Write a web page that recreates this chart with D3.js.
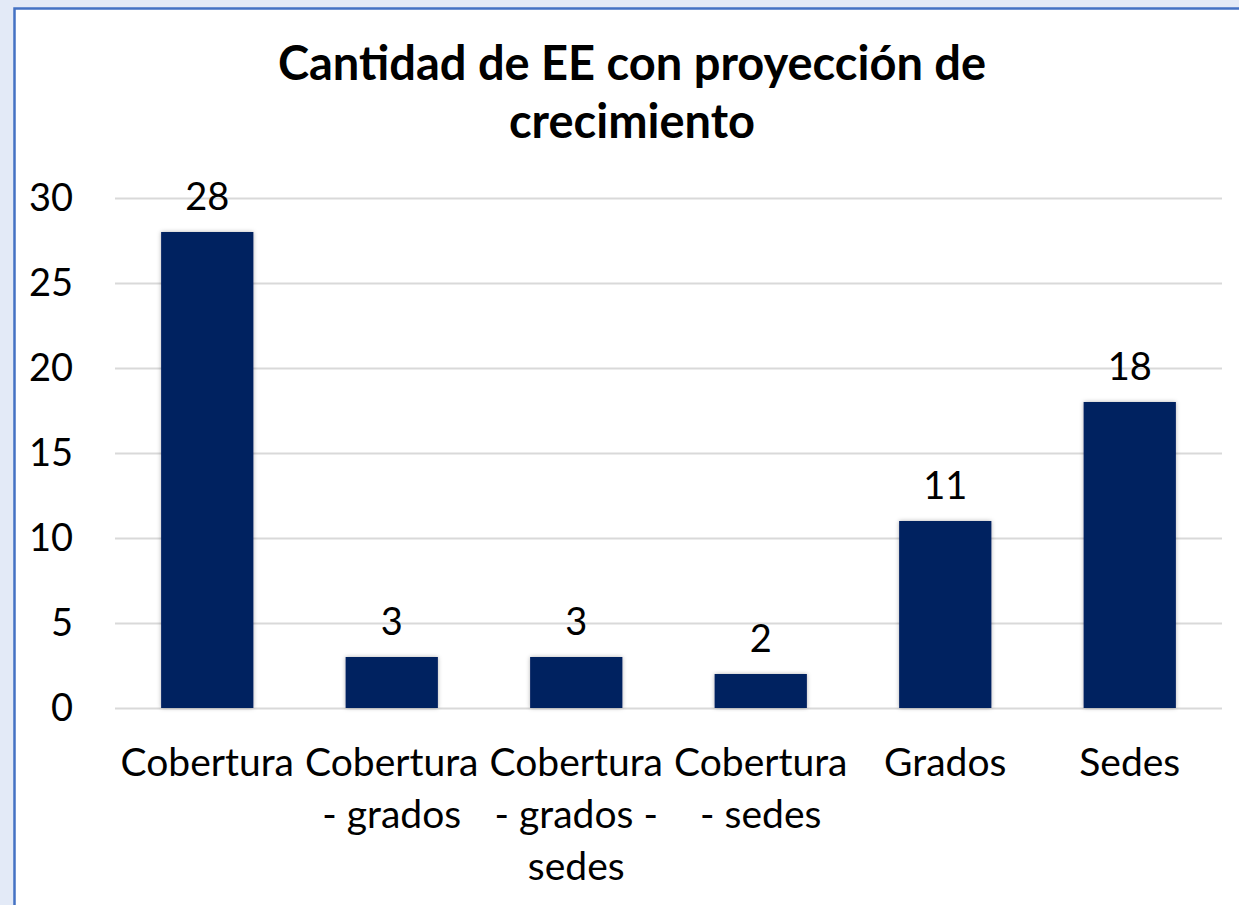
<!doctype html>
<html>

<head>
  <meta charset="UTF-8" />
  <title>Cantidad de EE con proyección de crecimiento</title>
  <style>
    html,
    body {
      margin: 0;
      background: #e3eaf7;
      width: 100%;
      height: 100%;
      overflow: hidden;
    }

    svg {
      font-family: Lato, "Open Sans", sans-serif;
    }

    .grid line {
      stroke: #d9d9d9;
      stroke-width: 2px;
    }

    .grid .domain {
      display: none;
    }
  </style>
</head>

<body>
  <script src="https://cdn.jsdelivr.net/npm/d3@7"></script>
  <script>
    // data
    const categories = ['Cobertura', 'Cobertura - grados', 'Cobertura - grados - sedes', 'Cobertura - sedes', 'Grados', 'Sedes'];
    const values = [28, 3, 3, 2, 11, 18];
    const yTicks = [0, 5, 10, 15, 20, 25, 30];
    const titleLines = ['Cantidad de EE con proyección de', 'crecimiento'];

    const width = 1239,
      height = 905;
    const margin = { top: 198, right: 17, bottom: 197, left: 115 };

    const svg = d3.select('body').append('svg')
      .attr('width', width)
      .attr('height', height);

    const defs = svg.append('defs');
    const shadow = defs.append('filter')
      .attr('id', 'shadow')
      .attr('x', '-10%').attr('y', '-10%')
      .attr('width', '120%').attr('height', '120%');
    shadow.append('feDropShadow')
      .attr('dx', 0).attr('dy', 0)
      .attr('stdDeviation', 2)
      .attr('flood-color', '#000')
      .attr('flood-opacity', 0.3);

    // chart frame
    svg.append('rect')
      .attr('x', 14.5).attr('y', 8.5)
      .attr('width', width).attr('height', height)
      .attr('fill', '#fff')
      .attr('stroke', '#4472c4')
      .attr('stroke-width', 2.5);

    const x = d3.scaleBand()
      .domain(categories)
      .range([margin.left, width - margin.right])
      .paddingInner(0.5)
      .paddingOuter(0.25);

    const y = d3.scaleLinear()
      .domain([0, 30])
      .range([height - margin.bottom, margin.top]);

    // gridlines
    svg.append('g')
      .attr('class', 'grid')
      .attr('transform', `translate(${margin.left},0)`)
      .call(d3.axisLeft(y).tickValues(yTicks).tickSize(-(width - margin.right - margin.left)).tickFormat(''));

    // y tick labels
    svg.append('g')
      .selectAll('text')
      .data(yTicks)
      .join('text')
      .attr('x', 73)
      .attr('y', d => y(d) + 13)
      .attr('text-anchor', 'end')
      .attr('font-size', 38)
      .attr('fill', '#000')
      .text(d => d);

    // bars
    svg.append('g')
      .selectAll('rect')
      .data(values)
      .join('rect')
      .attr('x', (d, i) => x(categories[i]))
      .attr('y', d => y(d))
      .attr('width', x.bandwidth())
      .attr('height', d => y(0) - y(d))
      .attr('fill', '#002060')
      .attr('filter', 'url(#shadow)');

    // data labels
    svg.append('g')
      .selectAll('text')
      .data(values)
      .join('text')
      .attr('x', (d, i) => x(categories[i]) + x.bandwidth() / 2)
      .attr('y', d => y(d) - 22)
      .attr('text-anchor', 'middle')
      .attr('font-size', 38)
      .attr('fill', '#000')
      .text(d => d);

    // category labels, wrapped to the band step
    const catLabels = svg.append('g')
      .selectAll('text')
      .data(categories)
      .join('text')
      .attr('text-anchor', 'middle')
      .attr('font-size', 39)
      .attr('fill', '#000')
      .attr('transform', d => `translate(${x(d) + x.bandwidth() / 2},${y(0) + 68})`);

    catLabels.each(function (d) {
      const text = d3.select(this);
      const words = d.split(' ');
      const maxW = x.step() - 4;
      let line = [];
      let lineNo = 0;
      let tspan = text.append('tspan').attr('x', 0).attr('y', 0);
      words.forEach(w => {
        line.push(w);
        tspan.text(line.join(' '));
        if (tspan.node().getComputedTextLength() > maxW && line.length > 1) {
          line.pop();
          tspan.text(line.join(' '));
          line = [w];
          lineNo++;
          tspan = text.append('tspan').attr('x', 0).attr('y', lineNo * 52).text(w);
        }
      });
    });

    // title
    svg.append('g')
      .selectAll('text')
      .data(titleLines)
      .join('text')
      .attr('x', 632)
      .attr('y', (d, i) => 80 + i * 58)
      .attr('text-anchor', 'middle')
      .attr('font-size', 47)
      .attr('font-weight', 'bold')
      .attr('fill', '#000')
      .text(d => d);
  </script>
</body>

</html>
